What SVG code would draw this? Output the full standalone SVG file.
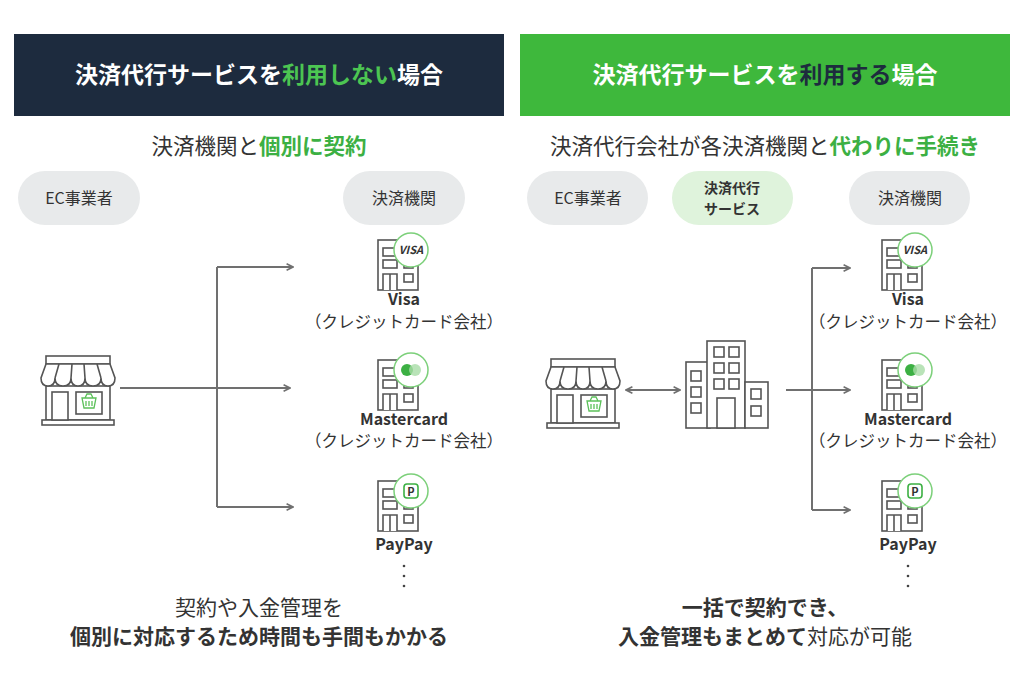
<svg xmlns="http://www.w3.org/2000/svg" xmlns:xlink="http://www.w3.org/1999/xlink" width="1024" height="682" viewBox="0 0 1024 682">
<style>
text{font-family:"Noto Sans CJK JP","Noto Sans",sans-serif;fill:#333}
.h{font-size:23px;font-weight:bold;fill:#fff}
.sub{font-size:21.5px;text-anchor:middle}
.g{fill:#3cb043;font-weight:bold}
.pill{fill:#e8eaeb}
.pt{font-size:16px;text-anchor:middle}
.lb{font-size:16px;font-weight:bold;text-anchor:middle}
.sm{font-size:16.5px;text-anchor:middle}
.ln{stroke:#707070;stroke-width:2;fill:none}
.ic{stroke:#555;stroke-width:1.6;fill:#fff}
.bt{font-size:21px;text-anchor:middle}
.b{font-weight:bold}
</style>
<defs>
<marker id="ar" viewBox="0 0 10 10" refX="9" refY="5" markerWidth="8" markerHeight="8" markerUnits="userSpaceOnUse" orient="auto-start-reverse"><path d="M1,1 L9,5 L1,9" fill="none" stroke="#707070" stroke-width="2"/></marker>
<g id="bank">
<rect class="ic" x="0" y="0" width="40" height="50"/>
<rect class="ic" x="5" y="8" width="14" height="8"/><rect class="ic" x="5" y="20" width="14" height="8"/>
<rect class="ic" x="26" y="20" width="9" height="8"/><rect class="ic" x="26" y="34" width="9" height="8"/>
<path class="ic" d="M5,50 V34 H19 V50 M12,34 V50"/>
<circle cx="33" cy="10" r="17" fill="#fff" stroke="#7cd07a" stroke-width="1.5"/>
</g>
<g id="shop">
<rect class="ic" x="6" y="34" width="64" height="34"/>
<rect class="ic" x="2" y="68" width="72" height="5"/>
<rect class="ic" x="12" y="40" width="16" height="28"/>
<rect class="ic" x="36" y="40" width="26" height="22"/>
<path d="M42,46 h14 l-2,10 h-10 z M45,46 l2,-4 h4 l2,4 M46,49 v5 M49,49 v5 M52,49 v5" fill="none" stroke="#5cc15a" stroke-width="1.3"/>
<rect class="ic" x="6" y="4" width="64" height="8"/>
<path class="ic" d="M6,12 L1,26 Q1,34 8,34 Q15,34 15,26 Q15,34 23,34 Q31,34 31,26 Q31,34 38,34 Q45,34 45,26 Q45,34 53,34 Q61,34 61,26 Q61,34 68,34 Q75,34 75,26 L70,12 Z M19,12 L15,26 M32,12 L31,26 M44,12 L45,26 M57,12 L61,26"/>
</g>
</defs>

<g id="header-left"><rect x="14" y="34" width="490" height="82" fill="#1d2b3e"/>
<text class="h" x="259" y="83" text-anchor="middle">決済代行サービスを<tspan fill="#4cc552">利用しない</tspan>場合</text></g>
<g id="header-right"><rect x="520" y="34" width="490" height="82" fill="#3eb83c"/>
<text class="h" x="765" y="83" text-anchor="middle">決済代行サービスを<tspan fill="#1d2b3e">利用する</tspan>場合</text></g>

<text class="sub" x="259" y="154">決済機関と<tspan class="g">個別に契約</tspan></text>
<text class="sub" x="765" y="154">決済代行会社が各決済機関と<tspan class="g">代わりに手続き</tspan></text>

<g id="pill-ec-l"><rect class="pill" x="18" y="171" width="122" height="54" rx="27"/><text class="pt" x="79" y="204">EC事業者</text></g>
<g id="pill-kikan-l"><rect class="pill" x="343" y="171" width="122" height="54" rx="27"/><text class="pt" x="404" y="204">決済機関</text></g>
<g id="pill-ec-r"><rect class="pill" x="527" y="171" width="121" height="54" rx="27"/><text class="pt" x="588" y="204">EC事業者</text></g>
<g id="pill-daiko"><rect x="672" y="171" width="121" height="54" rx="27" fill="#dff3dc"/><text x="732" y="193" font-weight="bold" font-size="14" text-anchor="middle">決済代行</text><text x="732" y="214" font-weight="bold" font-size="14" text-anchor="middle">サービス</text></g>
<g id="pill-kikan-r"><rect class="pill" x="849" y="171" width="121" height="54" rx="27"/><text class="pt" x="910" y="204">決済機関</text></g>

<g id="connectors">
<path class="ln" d="M120,388 H290" marker-end="url(#ar)"/>
<path class="ln" d="M217,267 V507"/>
<path class="ln" d="M217,267 H293" marker-end="url(#ar)"/>
<path class="ln" d="M217,507 H293" marker-end="url(#ar)"/>
<path class="ln" d="M626,390 H680" marker-start="url(#ar)" marker-end="url(#ar)"/>
<path class="ln" d="M786,390 H812"/>
<path class="ln" d="M812,268 V510"/>
<path class="ln" d="M812,268 H850" marker-end="url(#ar)"/>
<path class="ln" d="M812,390 H850" marker-end="url(#ar)"/>
<path class="ln" d="M812,510 H850" marker-end="url(#ar)"/>
</g>

<g id="shop-left"><use href="#shop" x="40" y="352"/></g>
<g id="shop-right"><use href="#shop" x="545" y="355"/></g>
<g id="daiko-building">
<rect class="ic" x="686" y="362" width="24" height="66"/>
<rect class="ic" x="707" y="341" width="38" height="87"/>
<rect class="ic" x="745" y="382" width="23" height="46"/>
<g class="ic"><rect x="691" y="371" width="10" height="10"/><rect x="691" y="387" width="10" height="10"/><rect x="691" y="403" width="10" height="10"/>
<rect x="714" y="347" width="10" height="10"/><rect x="729" y="347" width="10" height="10"/><rect x="714" y="363" width="10" height="10"/><rect x="729" y="363" width="10" height="10"/><rect x="714" y="379" width="10" height="10"/><rect x="729" y="379" width="10" height="10"/>
<rect x="717" y="398" width="18" height="30"/><rect x="751" y="389" width="10" height="10"/><rect x="751" y="406" width="10" height="10"/></g>
</g>

<g id="visa-l"><use href="#bank" x="378" y="240"/><text x="411" y="254" font-size="11" font-weight="bold" font-style="italic" fill="#3cb043" text-anchor="middle">VISA</text>
<text class="lb" x="404" y="305">Visa</text><text class="sm" x="404" y="328">（クレジットカード会社）</text></g>
<g id="master-l"><use href="#bank" x="378" y="360"/><circle cx="407" cy="370" r="6" fill="#3cb043"/><circle cx="415" cy="370" r="6" fill="#a8dca6" opacity="0.8"/>
<text class="lb" x="404" y="425">Mastercard</text><text class="sm" x="404" y="447">（クレジットカード会社）</text></g>
<g id="paypay-l"><use href="#bank" x="378" y="481"/><rect x="404" y="484" width="14" height="14" rx="3" fill="none" stroke="#3cb043" stroke-width="1.6"/><text x="411" y="496" font-size="11" font-weight="bold" fill="#3cb043" text-anchor="middle">P</text>
<text class="lb" x="404" y="550">PayPay</text></g>
<g id="dots-l" fill="#444"><circle cx="404" cy="566" r="1.3"/><circle cx="404" cy="576" r="1.3"/><circle cx="404" cy="586" r="1.3"/></g>

<g id="visa-r"><use href="#bank" x="882" y="240"/><text x="915" y="254" font-size="11" font-weight="bold" font-style="italic" fill="#3cb043" text-anchor="middle">VISA</text>
<text class="lb" x="908" y="305">Visa</text><text class="sm" x="908" y="328">（クレジットカード会社）</text></g>
<g id="master-r"><use href="#bank" x="882" y="360"/><circle cx="911" cy="370" r="6" fill="#3cb043"/><circle cx="919" cy="370" r="6" fill="#a8dca6" opacity="0.8"/>
<text class="lb" x="908" y="425">Mastercard</text><text class="sm" x="908" y="447">（クレジットカード会社）</text></g>
<g id="paypay-r"><use href="#bank" x="882" y="481"/><rect x="908" y="484" width="14" height="14" rx="3" fill="none" stroke="#3cb043" stroke-width="1.6"/><text x="915" y="496" font-size="11" font-weight="bold" fill="#3cb043" text-anchor="middle">P</text>
<text class="lb" x="908" y="550">PayPay</text></g>
<g id="dots-r" fill="#444"><circle cx="908" cy="566" r="1.3"/><circle cx="908" cy="576" r="1.3"/><circle cx="908" cy="586" r="1.3"/></g>

<text class="bt" x="259" y="615">契約や入金管理を</text>
<text class="bt b" x="259" y="644">個別に対応するため時間も手間もかかる</text>
<text class="bt b" x="765" y="615">一括で契約でき、</text>
<text class="bt" x="765" y="644"><tspan class="b">入金管理もまとめて</tspan>対応が可能</text>
</svg>
